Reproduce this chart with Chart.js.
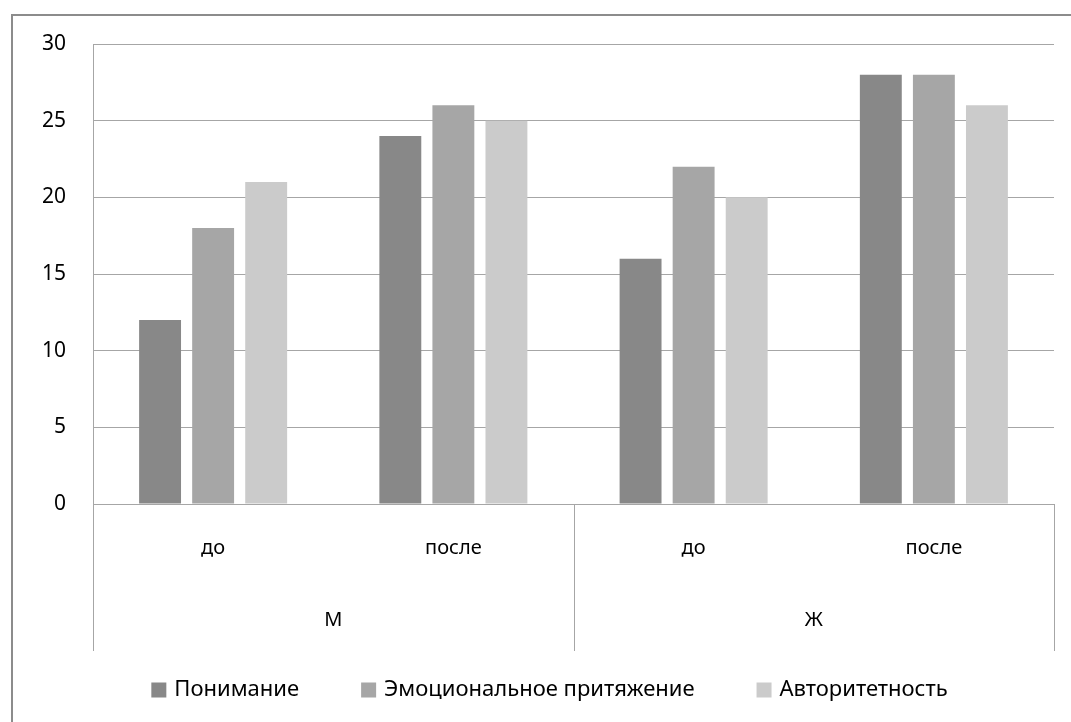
<!DOCTYPE html>
<html>
<head>
<meta charset="utf-8">
<script src="https://cdn.jsdelivr.net/npm/chart.js@4"></script>
<style>
  html, body { margin: 0; padding: 0; background: #fff; }
  #wrap { width: 1071px; height: 722px; position: relative; }
</style>
</head>
<body>
<div id="wrap"><canvas id="chart"></canvas></div>
<script>
// categories: period inside each gender group
const periods = ["до", "после", "до", "после"];
const groups = ["М", "Ж"];
// series values
const understanding = [12, 24, 16, 28];
const emotional = [18, 26, 22, 28];
const authority = [21, 25, 20, 26];
const seriesNames = ["Понимание", "Эмоциональное притяжение", "Авторитетность"];
const seriesColors = ["#888888", "#a6a6a6", "#cbcbcb"];

const FONT = "'Noto Sans', sans-serif";
const gridColor = "#a6a6a6";

// outer frame, multi-level category axis (groups М / Ж) and a legend spaced like Excel's
const groupAxis = {
  id: "groupAxis",
  beforeDraw(chart) {
    const ctx = chart.ctx;
    ctx.save();
    ctx.strokeStyle = "#8c8c8c";
    ctx.lineWidth = 2;
    ctx.beginPath();
    ctx.moveTo(12, chart.height);
    ctx.lineTo(12, 15);
    ctx.lineTo(chart.width, 15);
    ctx.stroke();
    ctx.restore();
  },
  afterDraw(chart) {
    const ctx = chart.ctx;
    const x = chart.scales.x;
    const area = chart.chartArea;
    const bottom = x.bottom;
    ctx.save();
    ctx.strokeStyle = gridColor;
    ctx.lineWidth = 1;
    const edges = [x.getPixelForValue(-0.5), x.getPixelForValue(1.5), x.getPixelForValue(3.5)];
    edges.forEach((px, i) => {
      const p = Math.round(px) + 0.5;
      ctx.beginPath();
      ctx.moveTo(p, i === 0 ? area.top : area.bottom);
      ctx.lineTo(p, bottom);
      ctx.stroke();
    });
    ctx.fillStyle = "#000";
    ctx.font = "20px " + FONT;
    ctx.textAlign = "center";
    ctx.textBaseline = "middle";
    groups.forEach((g, i) => {
      ctx.fillText(g, x.getPixelForValue(i * 2 + 0.5), area.bottom + 116);
    });

    // legend
    ctx.font = "22px " + FONT;
    ctx.textAlign = "left";
    const box = 15, boxGap = 8, itemGap = 62;
    const widths = chart.data.datasets.map((ds) => ctx.measureText(ds.label).width);
    const total = widths.reduce((a, w) => a + box + boxGap + w, 0) + itemGap * (widths.length - 1);
    let lx = chart.width / 2 + 14 - total / 2;
    const ly = bottom + 39;
    chart.data.datasets.forEach((ds, i) => {
      ctx.fillStyle = ds.backgroundColor;
      ctx.fillRect(lx, ly - box / 2, box, box);
      ctx.fillStyle = "#000";
      ctx.fillText(ds.label, lx + box + boxGap, ly);
      lx += box + boxGap + widths[i] + itemGap;
    });
    ctx.restore();
  }
};

const data = {
  labels: periods,
  datasets: [
    { label: seriesNames[0], data: understanding, backgroundColor: seriesColors[0] },
    { label: seriesNames[1], data: emotional, backgroundColor: seriesColors[1] },
    { label: seriesNames[2], data: authority, backgroundColor: seriesColors[2] }
  ]
};

const config = {
  type: "bar",
  data: data,
  plugins: [groupAxis],
  options: {
    responsive: true,
    maintainAspectRatio: false,
    animation: false,
    datasets: {
      bar: { categoryPercentage: 0.6625, barPercentage: 0.79 }
    },
    layout: { padding: { top: 44, right: 17, left: 0, bottom: 71 } },
    plugins: {
      tooltip: { enabled: false },
      legend: { display: false }
    },
    scales: {
      x: {
        grid: { display: false, drawTicks: false },
        border: { display: true, color: gridColor },
        ticks: { font: { family: FONT, size: 20 }, color: "#000", padding: 32 },
        afterFit(scale) { scale.height = 147; }
      },
      y: {
        min: 0,
        max: 30,
        ticks: { stepSize: 5, font: { family: FONT, size: 21 }, color: "#000", padding: 27 },
        grid: { color: gridColor, drawTicks: false },
        border: { display: true, color: gridColor },
        afterFit(scale) { scale.width = 93; }
      }
    }
  }
};

new Chart(document.getElementById("chart").getContext("2d"), config);
</script>
</body>
</html>
